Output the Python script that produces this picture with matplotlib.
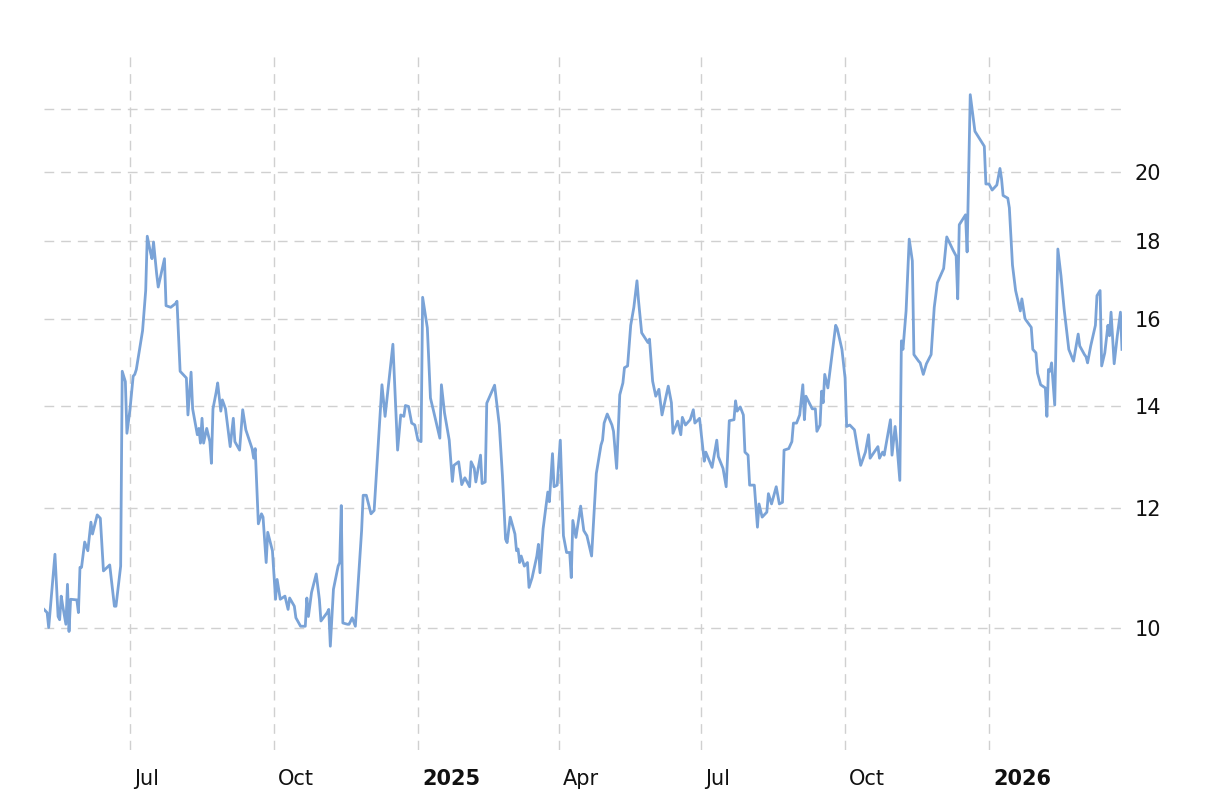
import matplotlib
matplotlib.use("Agg")
import matplotlib.pyplot as plt
import matplotlib.transforms as mtransforms
import pandas as pd

plt.rcParams["font.family"] = ["DejaVu Sans"]

# 价格序列：距 2024-07-01 的天数 + 收盘值
BASE_DATE = "2024-07-01"
DAYS = [
    -55, -53, -52, -48, -46, -45, -44, -43, -41, -40,
    -39, -38, -34, -33, -32, -31, -29, -27, -25, -24,
    -21, -19, -17, -13, -10, -9, -6, -5, -3, -2,
    0, 2, 3, 4, 8, 10, 11, 13, 14, 15,
    17, 18, 22, 23, 26, 29, 30, 32, 35, 36,
    37, 39, 40, 43, 44, 45, 46, 47, 49, 51,
    52, 53, 55, 56, 58, 59, 61, 64, 66, 67,
    70, 72, 74, 78, 79, 80, 82, 84, 85, 87,
    88, 91, 93, 94, 96, 99, 101, 102, 105, 106,
    109, 112, 113, 114, 116, 119, 121, 122, 126, 127,
    128, 130, 133, 134, 135, 136, 139, 140, 142, 144,
    148, 149, 151, 154, 156, 161, 163, 168, 171, 173,
    175, 176, 178, 180, 182, 184, 186, 187, 190, 192,
    194, 198, 199, 201, 204, 206, 207, 210, 212, 214,
    217, 218, 220, 221, 224, 225, 227, 228, 233, 236,
    238, 240, 241, 243, 246, 247, 248, 249, 250, 252,
    254, 255, 257, 260, 261, 262, 264, 267, 268, 270,
    271, 273, 275, 277, 279, 281, 282, 283, 285, 288,
    290, 292, 295, 298, 301, 302, 303, 305, 308, 309,
    311, 313, 315, 316, 318, 320, 322, 324, 325, 327,
    331, 332, 334, 336, 338, 340, 344, 346, 347, 350,
    352, 353, 355, 358, 360, 361, 364, 367, 368, 372,
    375, 376, 379, 381, 383, 386, 387, 388, 390, 392,
    393, 395, 396, 399, 401, 402, 404, 407, 408, 410,
    413, 415, 417, 418, 421, 423, 424, 426, 428, 430,
    431, 432, 436, 438, 439, 441, 442, 443, 444, 446,
    451, 452, 455, 457, 458, 460, 463, 465, 467, 470,
    472, 473, 475, 478, 479, 481, 482, 486, 487, 489,
    490, 492, 493, 494, 496, 498, 500, 501, 504, 505,
    507, 509, 512, 514, 516, 520, 522, 526, 528, 529,
    530, 534, 535, 537, 540, 546, 547, 549, 551, 554,
    556, 557, 558, 561, 562, 564, 566, 569, 570, 572,
    576, 577, 579, 580, 582, 585, 586, 587, 588, 589,
    591, 593, 595, 597, 600, 603, 606, 607, 610, 611,
    612, 614, 617, 618, 620, 621, 623, 625, 626, 627,
    629, 631, 633, 634,
]
CLOSE = [
    10.28, 10.23, 10.00, 11.18, 10.17, 10.12, 10.49, 10.33, 10.05, 10.68,
    9.94, 10.44, 10.43, 10.23, 10.96, 10.96, 11.39, 11.24, 11.74, 11.53,
    11.87, 11.81, 10.90, 11.00, 10.33, 10.33, 10.98, 14.77, 14.54, 13.44,
    13.95, 14.66, 14.70, 14.81, 15.71, 16.70, 18.14, 17.71, 17.53, 17.98,
    17.13, 16.79, 17.53, 16.32, 16.28, 16.37, 16.43, 14.77, 14.66, 14.62,
    13.82, 14.75, 13.95, 13.41, 13.54, 13.24, 13.75, 13.24, 13.54, 13.27,
    12.84, 13.95, 14.30, 14.51, 13.90, 14.14, 13.95, 13.17, 13.75, 13.27,
    13.10, 13.93, 13.51, 13.13, 12.94, 13.13, 11.71, 11.89, 11.83, 11.04,
    11.56, 11.24, 10.44, 10.76, 10.44, 10.49, 10.28, 10.46, 10.33, 10.15,
    10.02, 10.02, 10.46, 10.17, 10.55, 10.85, 10.44, 10.10, 10.23, 10.28,
    9.72, 10.60, 10.98, 11.04, 12.04, 10.07, 10.05, 10.05, 10.15, 10.02,
    11.59, 12.23, 12.23, 11.89, 11.95, 14.47, 13.79, 15.39, 13.10, 13.82,
    13.79, 14.02, 14.00, 13.65, 13.61, 13.30, 13.27, 16.53, 15.78, 14.18,
    13.90, 13.34, 14.47, 13.86, 13.30, 12.49, 12.80, 12.87, 12.43, 12.56,
    12.39, 12.87, 12.74, 12.48, 13.00, 12.45, 12.48, 14.07, 14.46, 13.61,
    12.60, 11.44, 11.38, 11.83, 11.53, 11.24, 11.27, 11.04, 11.15, 10.98,
    11.04, 10.63, 10.79, 11.15, 11.35, 10.87, 11.62, 12.29, 12.11, 13.03,
    12.39, 12.42, 13.30, 11.50, 11.21, 11.21, 10.79, 11.77, 11.47, 12.03,
    11.59, 11.50, 11.15, 12.64, 13.20, 13.30, 13.65, 13.84, 13.61, 13.48,
    12.74, 14.25, 14.51, 14.85, 14.89, 15.84, 16.28, 16.95, 16.44, 15.66,
    15.43, 15.51, 14.55, 14.22, 14.37, 13.82, 14.44, 14.08, 13.44, 13.69,
    13.41, 13.77, 13.61, 13.72, 13.93, 13.65, 13.75, 12.88, 13.06, 12.76,
    13.30, 12.97, 12.74, 12.39, 13.70, 13.72, 14.12, 13.90, 13.99, 13.82,
    13.06, 13.00, 12.42, 12.42, 11.65, 12.07, 11.83, 11.92, 12.26, 12.07,
    12.39, 12.07, 12.10, 13.10, 13.13, 13.27, 13.65, 13.65, 13.82, 14.47,
    13.72, 14.22, 13.95, 13.95, 13.48, 13.61, 14.33, 14.08, 14.70, 14.40,
    15.84, 15.76, 15.27, 14.62, 13.58, 13.61, 13.51, 13.13, 12.80, 13.06,
    13.41, 12.94, 13.03, 13.17, 12.94, 13.06, 13.00, 13.72, 13.00, 13.58,
    13.27, 12.51, 15.47, 15.27, 16.19, 18.06, 17.47, 15.15, 15.00, 14.96,
    14.70, 14.94, 15.15, 16.28, 16.90, 17.27, 18.12, 17.76, 17.60, 16.49,
    18.46, 18.74, 17.71, 22.50, 21.28, 20.80, 19.64, 19.64, 19.46, 19.61,
    20.11, 19.80, 19.30, 19.22, 18.94, 17.36, 16.70, 16.19, 16.49, 16.00,
    15.79, 15.27, 15.19, 14.73, 14.47, 14.40, 13.79, 14.81, 14.77, 14.96,
    14.03, 17.79, 17.08, 16.24, 15.27, 15.00, 15.63, 15.35, 15.15, 15.10,
    14.96, 15.35, 15.84, 16.57, 16.70, 14.89, 15.19, 15.84, 15.59, 16.16,
    14.94, 15.59, 16.16, 15.27,
]

X_TICKS = ["2024-07-01", "2024-10-01", "2025-01-01", "2025-04-01",
           "2025-07-01", "2025-10-01", "2026-01-01"]
X_LABELS = ["Jul", "Oct", "2025", "Apr", "Jul", "Oct", "2026"]
Y_TICKS = [10, 12, 14, 16, 18, 20, 22]
Y_LABELS = ["10", "12", "14", "16", "18", "20", ""]

LINE_COLOR = "#7aa3d7"
GRID_COLOR = "#d0d0d0"

dates = pd.Timestamp(BASE_DATE) + pd.to_timedelta(DAYS, unit="D")

fig = plt.figure(figsize=(12.16, 7.98), dpi=100)
ax = fig.add_axes([44 / 1216, 48 / 798, 1078 / 1216, 695 / 798])

ax.plot(dates, CLOSE, color=LINE_COLOR, lw=2.0, solid_joinstyle="round")

ax.set_yscale("log")
ax.set_ylim(8.3, 23.9)
ax.set_xlim(dates[0], dates[-1])

ax.set_yticks(Y_TICKS)
ax.set_yticklabels(Y_LABELS)
ax.yaxis.set_minor_locator(matplotlib.ticker.NullLocator())
ax.yaxis.tick_right()
ax.tick_params(axis="y", length=0, pad=9, labelsize=15, labelcolor="#111111")

ax.set_xticks(pd.to_datetime(X_TICKS))
ax.set_xticklabels(X_LABELS)
ax.tick_params(axis="x", length=0, pad=14, labelsize=15, labelcolor="#111111")
offset = mtransforms.ScaledTranslation(4 / 100, 0, fig.dpi_scale_trans)
for lab in ax.get_xticklabels():
    lab.set_horizontalalignment("left")
    lab.set_transform(lab.get_transform() + offset)
    if lab.get_text().isdigit():
        lab.set_fontweight("bold")

ax.grid(True, which="major", color=GRID_COLOR, lw=1.0, dashes=(7, 5))
ax.set_axisbelow(True)
for s in ax.spines.values():
    s.set_visible(False)

fig.savefig("out.png", dpi=100, facecolor="white")
